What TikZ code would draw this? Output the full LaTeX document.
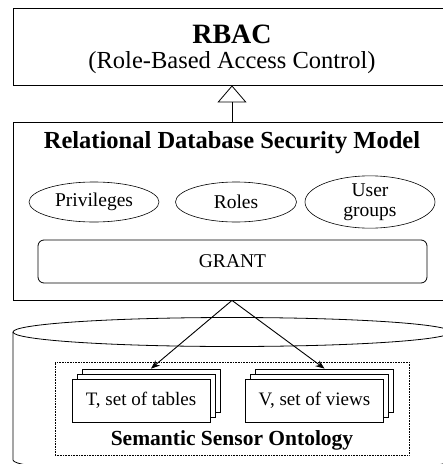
\documentclass[tikz,border=0pt]{standalone}
\usepackage{fontspec}
\setmainfont{Liberation Serif}
\usetikzlibrary{shapes.geometric,arrows.meta}
\tikzset{
	box/.style={draw, line width=.8pt, inner sep=0pt},
	blob/.style={draw, ellipse, line width=.6pt, inner sep=0pt, minimum height=40pt, align=center, font=\fontsize{19.5}{20}\selectfont},
	sheet/.style={draw, fill=white, line width=.8pt, minimum width=138pt, minimum height=43pt, inner sep=0pt, font=\fontsize{19}{20}\selectfont},
	txt/.style={inner sep=0pt, anchor=base},
}

\begin{document}
\begin{tikzpicture}[x=1pt,y=1pt]
	\useasboundingbox (0,0) rectangle (443,-464);
	\clip (0,0) rectangle (443,-464);
	% RBAC
	\node[box, minimum width=438pt, minimum height=77pt] (rbac) at (232,-46.5) {};
	\node[txt, font=\bfseries\fontsize{28}{30}\selectfont] (rbacname) at (232,-43) {RBAC};
	\node[txt, font=\fontsize{24.5}{26}\selectfont] (rbacfull) at (232,-68) {(Role-Based Access Control)};
	% security model
	\node[box, minimum width=438pt, minimum height=178pt] (model) at (232,-211) {};
	\node[txt, font=\bfseries\fontsize{24.5}{26}\selectfont] (modelname) at (232,-148) {Relational Database Security Model};
	\node[blob, minimum width=130pt] (priv) at (94,-202) {Privileges};
	\node[blob, minimum width=121pt] (roles) at (236,-202) {Roles};
	\node[blob, minimum width=130pt] (groups) at (370,-202) {User\\groups};
	\node[box, rounded corners=6pt, minimum width=389pt, minimum height=43pt, font=\fontsize{19.5}{20}\selectfont] (grant) at (232.5,-261.5) {GRANT};
	\draw[line width=.8pt, -{Triangle[open, length=17pt, width=29pt]}] (model.north) -- (rbac.south);
	% database
	\draw[line width=.8pt] (232,-332) ellipse (219pt and 14.5pt);
	\draw[line width=.8pt] (13,-332) -- (13,-460) arc (180:360:219pt and 14.5pt) -- (451,-332);
	\node[draw, densely dotted, line width=.6pt, minimum width=354pt, minimum height=93pt, inner sep=0pt] (ontology) at (232,-408.5) {};
	% tables and views
	\node[sheet] (tab3) at (151,-390.5) {};
	\node[sheet] (tab2) at (146,-395.5) {};
	\node[sheet] (tab1) at (141,-400.5) {T, set of tables};
	\node[sheet] (view3) at (324.5,-390.5) {};
	\node[sheet] (view2) at (319.5,-395.5) {};
	\node[sheet] (view1) at (314.5,-400.5) {V, set of views};
	\node[txt, font=\bfseries\fontsize{21.5}{22}\selectfont] (ontologyname) at (232,-445) {Semantic Sensor Ontology};
	\draw[line width=.9pt, -{Stealth[length=9pt, width=7pt]}] (model.south) -- (tab3.north);
	\draw[line width=.9pt, -{Stealth[length=9pt, width=7pt]}] (model.south) -- (view3.north);
\end{tikzpicture}
\end{document}
